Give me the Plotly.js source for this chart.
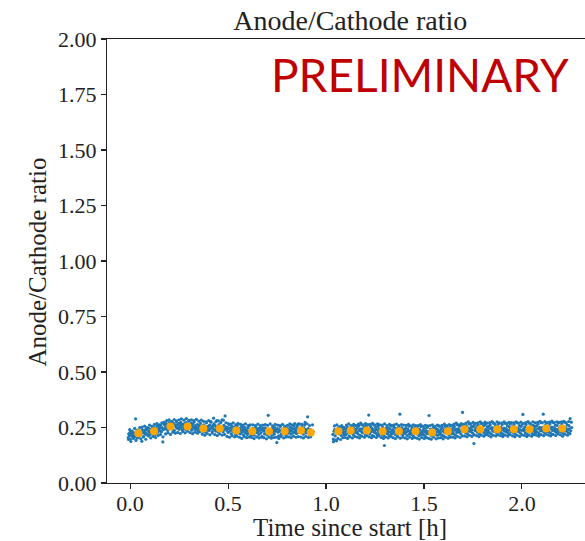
<!DOCTYPE html>
<html>
<head>
<meta charset="utf-8">
<script src="https://cdn.plot.ly/plotly-3.0.1.min.js"></script>
<style>html,body{margin:0;padding:0;background:#fff;}#chart{width:585px;height:541px;}</style>
</head>
<body>
<div id="chart"></div>
<script>
// ---- Data ----
// Run segment 1: time [h] and anode/cathode ratio
const t1 = [
-0.010,-0.007,-0.003,0.000,0.002,0.006,0.009,0.012,0.016,0.018,
0.022,0.025,0.028,0.031,0.034,0.038,0.041,0.043,0.047,0.050,
0.053,0.057,0.060,0.062,0.066,0.069,0.072,0.075,0.078,0.082,
0.085,0.087,0.091,0.094,0.097,0.101,0.103,0.107,0.110,0.113,
0.116,0.119,0.122,0.126,0.128,0.132,0.135,0.138,0.141,0.144,
0.148,0.151,0.153,0.157,0.160,0.163,0.167,0.169,0.173,0.176,
0.179,0.182,0.185,0.188,0.192,0.195,0.198,0.201,0.204,0.208,
0.210,0.214,0.217,0.220,0.223,0.226,0.229,0.233,0.236,0.239,
0.242,0.245,0.249,0.251,0.255,0.258,0.261,0.264,0.267,0.271,
0.274,0.277,0.280,0.283,0.286,0.290,0.292,0.296,0.299,0.302,
0.305,0.308,0.311,0.315,0.318,0.321,0.324,0.327,0.330,0.334,
0.337,0.340,0.343,0.346,0.349,0.353,0.355,0.359,0.362,0.365,
0.368,0.371,0.375,0.377,0.381,0.384,0.387,0.390,0.393,0.397,
0.399,0.403,0.406,0.409,0.412,0.415,0.419,0.421,0.425,0.428,
0.431,0.434,0.437,0.441,0.443,0.447,0.450,0.453,0.456,0.459,
0.463,0.465,0.469,0.472,0.475,0.478,0.481,0.485,0.488,0.491,
0.494,0.497,0.500,0.504,0.506,0.510,0.513,0.516,0.519,0.522,
0.526,0.529,0.531,0.535,0.538,0.541,0.545,0.547,0.551,0.554,
0.557,0.560,0.563,0.566,0.570,0.573,0.576,0.579,0.582,0.585,
0.589,0.591,0.595,0.598,0.601,0.604,0.607,0.611,0.613,0.617,
0.620,0.623,0.626,0.629,0.633,0.635,0.639,0.642,0.645,0.648,
0.651,0.655,0.657,0.661,0.664,0.667,0.670,0.673,0.677,0.679,
0.683,0.686,0.689,0.692,0.695,0.699,0.701,0.705,0.708,0.711,
0.714,0.717,0.721,0.723,0.727,0.730,0.733,0.736,0.739,0.743,
0.745,0.749,0.752,0.755,0.758,0.761,0.765,0.767,0.771,0.774,
0.777,0.780,0.783,0.787,0.789,0.793,0.796,0.799,0.802,0.805,
0.809,0.811,0.815,0.818,0.821,0.824,0.827,0.831,0.833,0.837,
0.840,0.843,0.846,0.849,0.853,0.855,0.859,0.862,0.865,0.868,
0.871,0.875,0.877,0.881,0.884,0.887,0.890,0.893,0.897,0.899,
0.903,0.906,0.909,0.912,0.915,0.919,0.921,0.925,0.928,0.934
];
const r1 = [
.205,.221,.213,.228,.198,.219,.232,.210,.224,.215,
.226,.208,.289,.219,.231,.203,.222,.236,.214,.225,
.218,.232,.188,.241,.226,.209,.229,.237,.220,.244,
.223,.238,.214,.247,.231,.226,.219,.242,.235,.228,
.241,.226,.250,.232,.219,.244,.237,.256,.229,.240,
.252,.236,.247,.261,.231,.249,.185,.240,.266,.245,
.259,.244,.268,.251,.237,.262,.255,.272,.246,.258,
.249,.264,.243,.271,.258,.236,.262,.254,.275,.247,
.263,.250,.269,.242,.258,.273,.251,.265,.239,.260,
.248,.268,.257,.241,.272,.253,.262,.246,.279,.259,
.261,.245,.270,.238,.256,.266,.249,.275,.243,.258,
.252,.239,.263,.247,.231,.258,.244,.269,.236,.254,
.241,.257,.233,.262,.248,.229,.253,.271,.238,.250,
.255,.237,.261,.243,.277,.249,.232,.258,.245,.266,
.240,.259,.234,.252,.281,.246,.229,.263,.250,.237,
.255,.238,.284,.247,.231,.260,.242,.302,.253,.244,
.236,.251,.228,.245,.262,.233,.247,.221,.256,.239,
.243,.229,.252,.236,.218,.247,.231,.258,.240,.225,
.232,.246,.221,.238,.254,.229,.243,.216,.237,.251,
.226,.241,.235,.219,.248,.230,.257,.224,.239,.213,
.238,.222,.246,.231,.215,.244,.236,.252,.227,.240,
.229,.245,.218,.237,.251,.225,.241,.210,.234,.247,
.236,.221,.248,.230,.243,.216,.239,.305,.227,.235,
.224,.240,.231,.214,.246,.229,.237,.220,.250,.233,
.238,.182,.245,.229,.212,.241,.234,.254,.219,.236,
.227,.243,.221,.238,.250,.230,.215,.246,.235,.224,
.241,.229,.253,.236,.220,.248,.233,.244,.226,.257,
.230,.245,.238,.222,.251,.235,.266,.228,.243,.239,
.244,.229,.252,.236,.220,.247,.233,.273,.241,.226,
.238,.298,.245,.230,.216,.241,.227,.236,.219,.233
];
// Segment 1, further readings at the edges of the cloud
const t1b = [
-0.008,-0.002,0.004,0.011,0.017,0.023,0.030,0.036,0.042,0.049,
0.055,0.061,0.067,0.074,0.080,0.086,0.093,0.099,0.105,0.111,
0.118,0.124,0.130,0.137,0.143,0.149,0.155,0.162,0.168,0.174,
0.181,0.187,0.193,0.199,0.206,0.212,0.218,0.225,0.231,0.237,
0.243,0.250,0.256,0.262,0.269,0.275,0.281,0.287,0.294,0.300,
0.306,0.313,0.319,0.325,0.331,0.338,0.344,0.350,0.357,0.363,
0.369,0.375,0.382,0.388,0.394,0.401,0.407,0.413,0.419,0.426,
0.432,0.438,0.445,0.451,0.457,0.463,0.470,0.476,0.482,0.489,
0.495,0.501,0.507,0.514,0.520,0.526,0.533,0.539,0.545,0.551,
0.558,0.564,0.570,0.577,0.583,0.589,0.595,0.602,0.608,0.614,
0.621,0.627,0.633,0.639,0.646,0.652,0.658,0.665,0.671,0.677,
0.683,0.690,0.696,0.702,0.709,0.715,0.721,0.727,0.734,0.740,
0.746,0.753,0.759,0.765,0.771,0.778,0.784,0.790,0.797,0.803,
0.809,0.815,0.822,0.828,0.834,0.841,0.847,0.853,0.859,0.866,
0.872,0.878,0.885,0.891,0.897,0.903,0.910,0.916,0.922,0.931
];
const r1b = [
.196,.240,.187,.234,.201,.246,.192,.238,.205,.250,
.199,.252,.208,.256,.197,.249,.212,.261,.203,.255,
.210,.264,.205,.268,.214,.262,.219,.271,.208,.274,
.221,.281,.226,.284,.219,.278,.229,.286,.224,.280,
.228,.285,.223,.289,.231,.283,.226,.290,.233,.282,
.227,.284,.222,.281,.229,.287,.224,.279,.231,.283,
.220,.278,.215,.275,.223,.281,.217,.274,.225,.292,
.218,.276,.214,.280,.221,.273,.216,.283,.219,.271,
.210,.268,.206,.265,.213,.271,.208,.263,.211,.269,
.206,.264,.201,.261,.209,.267,.204,.259,.207,.262,
.205,.262,.200,.259,.208,.265,.203,.258,.206,.261,
.204,.263,.199,.260,.207,.266,.202,.257,.205,.264,
.206,.261,.201,.258,.209,.264,.203,.256,.207,.260,
.208,.266,.204,.262,.211,.268,.206,.260,.209,.265,
.207,.264,.203,.261,.210,.267,.205,.259,.208,.262
];
// Run segment 2
const t2 = [
1.035,1.038,1.041,1.044,1.047,1.050,1.054,1.057,1.060,1.063,
1.066,1.069,1.072,1.075,1.078,1.081,1.084,1.087,1.090,1.093,
1.096,1.099,1.102,1.106,1.109,1.112,1.115,1.118,1.121,1.124,
1.127,1.130,1.133,1.136,1.139,1.142,1.145,1.148,1.151,1.154,
1.157,1.160,1.163,1.167,1.170,1.173,1.176,1.179,1.182,1.185,
1.188,1.191,1.194,1.197,1.200,1.203,1.206,1.209,1.212,1.215,
1.218,1.221,1.224,1.228,1.231,1.234,1.237,1.240,1.243,1.246,
1.249,1.252,1.255,1.258,1.261,1.264,1.267,1.270,1.273,1.276,
1.279,1.282,1.285,1.289,1.292,1.295,1.298,1.301,1.304,1.307,
1.310,1.313,1.316,1.319,1.322,1.325,1.328,1.331,1.334,1.337,
1.340,1.343,1.346,1.350,1.353,1.356,1.359,1.362,1.365,1.368,
1.371,1.374,1.377,1.380,1.383,1.386,1.389,1.392,1.395,1.398,
1.401,1.404,1.407,1.411,1.414,1.417,1.420,1.423,1.426,1.429,
1.432,1.435,1.438,1.441,1.444,1.447,1.450,1.453,1.456,1.459,
1.462,1.465,1.468,1.472,1.475,1.478,1.481,1.484,1.487,1.490,
1.493,1.496,1.499,1.502,1.505,1.508,1.511,1.514,1.517,1.520,
1.523,1.526,1.529,1.533,1.536,1.539,1.542,1.545,1.548,1.551,
1.554,1.557,1.560,1.563,1.566,1.569,1.572,1.575,1.578,1.581,
1.584,1.587,1.590,1.594,1.597,1.600,1.603,1.606,1.609,1.612,
1.615,1.618,1.621,1.624,1.627,1.630,1.633,1.636,1.639,1.642,
1.645,1.648,1.651,1.655,1.658,1.661,1.664,1.667,1.670,1.673,
1.676,1.679,1.682,1.685,1.688,1.691,1.694,1.697,1.700,1.703,
1.706,1.709,1.712,1.716,1.719,1.722,1.725,1.728,1.731,1.734,
1.737,1.740,1.743,1.746,1.749,1.752,1.755,1.758,1.761,1.764,
1.767,1.770,1.773,1.777,1.780,1.783,1.786,1.789,1.792,1.795,
1.798,1.801,1.804,1.807,1.810,1.813,1.816,1.819,1.822,1.825,
1.828,1.831,1.834,1.838,1.841,1.844,1.847,1.850,1.853,1.856,
1.859,1.862,1.865,1.868,1.871,1.874,1.877,1.880,1.883,1.886,
1.889,1.892,1.895,1.899,1.902,1.905,1.908,1.911,1.914,1.917,
1.920,1.923,1.926,1.929,1.932,1.935,1.938,1.941,1.944,1.947,
1.950,1.953,1.956,1.960,1.963,1.966,1.969,1.972,1.975,1.978,
1.981,1.984,1.987,1.990,1.993,1.996,1.999,2.002,2.005,2.008,
2.011,2.014,2.017,2.021,2.024,2.027,2.030,2.033,2.036,2.039,
2.042,2.045,2.048,2.051,2.054,2.057,2.060,2.063,2.066,2.069,
2.072,2.075,2.078,2.082,2.085,2.088,2.091,2.094,2.097,2.100,
2.103,2.106,2.109,2.112,2.115,2.118,2.121,2.124,2.127,2.130,
2.133,2.136,2.139,2.143,2.146,2.149,2.152,2.155,2.158,2.161,
2.164,2.167,2.170,2.173,2.176,2.179,2.182,2.185,2.188,2.191,
2.194,2.197,2.200,2.204,2.207,2.210,2.213,2.216,2.219,2.222,
2.225,2.228,2.231,2.234,2.237,2.240,2.243,2.246,2.249,2.254
];
const r2 = [
.219,.186,.233,.241,.212,.228,.190,.236,.245,.222,
.238,.221,.246,.229,.214,.251,.233,.226,.242,.217,
.229,.244,.218,.237,.252,.225,.240,.211,.235,.247,
.241,.226,.255,.232,.219,.246,.238,.260,.228,.243,
.230,.248,.222,.257,.237,.215,.244,.233,.262,.227,
.243,.229,.251,.236,.218,.258,.240,.225,.248,.232,
.306,.238,.221,.254,.231,.246,.213,.240,.262,.229,
.235,.250,.224,.241,.217,.256,.232,.245,.222,.238,
.228,.243,.219,.251,.236,.212,.169,.240,.226,.247,
.237,.222,.248,.231,.214,.244,.229,.256,.220,.235,
.241,.226,.252,.233,.218,.246,.230,.239,.211,.249,
.229,.244,.310,.236,.221,.250,.232,.217,.242,.227,
.238,.223,.247,.230,.214,.243,.235,.256,.220,.231,
.226,.241,.218,.249,.233,.210,.237,.228,.252,.224,
.235,.221,.245,.229,.213,.240,.226,.254,.218,.232,
.224,.239,.216,.247,.230,.209,.236,.222,.250,.228,
.232,.304,.220,.243,.227,.212,.238,.225,.251,.218,
.237,.223,.246,.229,.215,.242,.231,.257,.219,.235,
.228,.243,.217,.250,.234,.211,.239,.226,.255,.230,
.240,.225,.249,.232,.216,.245,.229,.258,.221,.237,
.231,.247,.222,.255,.238,.215,.243,.228,.262,.234,
.244,.229,.256,.236,.221,.262,.240,.318,.232,.250,
.236,.251,.227,.259,.244,.221,.248,.233,.266,.240,
.247,.231,.257,.239,.224,.253,.178,.263,.236,.245,
.238,.254,.229,.261,.243,.222,.250,.235,.268,.241,
.246,.230,.257,.238,.223,.264,.242,.232,.253,.227,
.240,.255,.228,.262,.245,.221,.249,.236,.270,.233,
.248,.232,.259,.240,.225,.256,.238,.266,.229,.244,
.235,.251,.226,.263,.241,.219,.247,.233,.269,.238,
.245,.229,.258,.237,.222,.254,.240,.267,.231,.249,
.239,.256,.227,.262,.243,.220,.250,.234,.271,.236,
.247,.231,.259,.240,.224,.255,.237,.265,.309,.243,
.236,.252,.226,.264,.242,.219,.248,.232,.270,.239,
.246,.230,.257,.238,.223,.261,.243,.234,.255,.228,
.241,.256,.229,.265,.245,.222,.251,.236,.272,.238,
.249,.233,.310,.242,.227,.258,.239,.268,.231,.246,
.238,.255,.229,.266,.246,.223,.252,.237,.273,.241,
.250,.234,.261,.243,.228,.259,.240,.270,.232,.247,
.239,.256,.230,.267,.244,.224,.253,.236,.274,.242,
.248,.233,.262,.240,.226,.258,.244,.290,.235,.250
];
// Segment 2, further readings at the edges of the cloud
const t2b = [
1.037,1.043,1.049,1.055,1.061,1.067,1.074,1.080,1.086,1.092,
1.098,1.104,1.110,1.116,1.122,1.128,1.135,1.141,1.147,1.153,
1.159,1.165,1.171,1.177,1.183,1.189,1.196,1.202,1.208,1.214,
1.220,1.226,1.232,1.238,1.244,1.250,1.257,1.263,1.269,1.275,
1.281,1.287,1.293,1.299,1.305,1.311,1.318,1.324,1.330,1.336,
1.342,1.348,1.354,1.360,1.366,1.372,1.379,1.385,1.391,1.397,
1.403,1.409,1.415,1.421,1.427,1.433,1.440,1.446,1.452,1.458,
1.464,1.470,1.476,1.482,1.488,1.494,1.501,1.507,1.513,1.519,
1.525,1.531,1.537,1.543,1.549,1.555,1.562,1.568,1.574,1.580,
1.586,1.592,1.598,1.604,1.610,1.616,1.623,1.629,1.635,1.641,
1.647,1.653,1.659,1.665,1.671,1.677,1.684,1.690,1.696,1.702,
1.708,1.714,1.720,1.726,1.732,1.738,1.745,1.751,1.757,1.763,
1.769,1.775,1.781,1.787,1.793,1.799,1.806,1.812,1.818,1.824,
1.830,1.836,1.842,1.848,1.854,1.860,1.867,1.873,1.879,1.885,
1.891,1.897,1.903,1.909,1.915,1.921,1.928,1.934,1.940,1.946,
1.952,1.958,1.964,1.970,1.976,1.982,1.989,1.995,2.001,2.007,
2.013,2.019,2.025,2.031,2.037,2.043,2.050,2.056,2.062,2.068,
2.074,2.080,2.086,2.092,2.098,2.104,2.111,2.117,2.123,2.129,
2.135,2.141,2.147,2.153,2.159,2.165,2.172,2.178,2.184,2.190,
2.196,2.202,2.208,2.214,2.220,2.226,2.233,2.239,2.245,2.252
];
const r2b = [
.198,.257,.193,.262,.201,.254,.196,.259,.204,.251,
.205,.261,.201,.266,.208,.258,.203,.264,.210,.259,
.207,.265,.203,.270,.211,.262,.206,.268,.213,.263,
.208,.264,.204,.269,.210,.261,.205,.267,.212,.262,
.205,.261,.201,.266,.207,.259,.203,.264,.209,.260,
.204,.262,.200,.265,.208,.258,.202,.263,.206,.261,
.203,.260,.199,.264,.207,.257,.201,.262,.205,.259,
.202,.258,.198,.263,.205,.256,.200,.260,.204,.257,
.201,.259,.197,.262,.206,.255,.199,.261,.203,.256,
.204,.260,.199,.265,.207,.258,.202,.263,.206,.259,
.207,.265,.203,.270,.210,.262,.205,.268,.212,.264,
.212,.270,.208,.275,.215,.268,.210,.273,.217,.269,
.213,.271,.209,.276,.216,.269,.211,.274,.218,.270,
.214,.272,.208,.277,.215,.268,.212,.275,.217,.271,
.213,.270,.209,.276,.216,.269,.211,.273,.218,.272,
.212,.271,.208,.275,.215,.270,.210,.274,.217,.268,
.214,.272,.209,.277,.216,.269,.211,.276,.218,.271,
.215,.273,.211,.278,.218,.271,.213,.277,.220,.272,
.216,.274,.212,.279,.219,.272,.214,.276,.221,.273,
.217,.275,.211,.278,.220,.271,.215,.277,.222,.274
];
// Binned means (orange)
const binT1 = [0.042,0.122,0.206,0.293,0.374,0.458,0.542,0.624,0.709,0.789,0.872,0.922];
const binR1 = [0.224,0.233,0.255,0.255,0.245,0.245,0.236,0.233,0.233,0.233,0.237,0.228];
const binT2 = [1.063,1.126,1.208,1.289,1.372,1.457,1.542,1.622,1.707,1.787,1.874,1.959,2.039,2.124,2.206];
const binR2 = [0.233,0.236,0.237,0.233,0.233,0.233,0.227,0.233,0.242,0.242,0.242,0.242,0.242,0.246,0.245];
// Ticks
const xTicks = [0.0, 0.5, 1.0, 1.5, 2.0];
const xTickText = ["0.0", "0.5", "1.0", "1.5", "2.0"];
const yTicks = [0, 0.25, 0.5, 0.75, 1.0, 1.25, 1.5, 1.75, 2.0];
const yTickText = ["0.00", "0.25", "0.50", "0.75", "1.00", "1.25", "1.50", "1.75", "2.00"];
const titleText = "Anode/Cathode ratio";
const xLabel = "Time since start [h]";
const yLabel = "Anode/Cathode ratio";
const stampText = "PRELIMINARY";

// ---- Plot ----
const serif = "Liberation Serif, Times New Roman, serif";
const traces = [
  {x: t1.concat(t1b, t2, t2b), y: r1.concat(r1b, r2, r2b), type: "scatter", mode: "markers",
   marker: {color: "#1f77b4", size: 3.2, line: {width: 0}}, hoverinfo: "x+y"},
  {x: binT1.concat(binT2), y: binR1.concat(binR2), type: "scatter", mode: "markers",
   marker: {color: "#ffa500", size: 8, line: {width: 0}}, hoverinfo: "x+y"}
];
const layout = {
  width: 585, height: 541,
  margin: {l: 107, r: 0, t: 39, b: 58, pad: 0},
  paper_bgcolor: "#fff", plot_bgcolor: "#fff",
  showlegend: false,
  font: {family: serif, color: "#222", size: 22},
  title: {text: titleText, font: {family: serif, size: 28, color: "#222"},
          xref: "paper", x: 0.509, xanchor: "center",
          yref: "container", y: 0.962, yanchor: "middle"},
  xaxis: {range: [-0.118, 2.322], tickvals: xTicks, ticktext: xTickText,
          showgrid: false, zeroline: false, showline: true, linecolor: "#222", linewidth: 1.2,
          mirror: true, ticks: "outside", ticklen: 5, tickwidth: 1.1, tickcolor: "#222",
          ticklabelstandoff: -5,
          tickfont: {family: serif, size: 22, color: "#222"}, fixedrange: true},
  yaxis: {range: [0, 2], tickvals: yTicks, ticktext: yTickText,
          showgrid: false, zeroline: false, showline: true, linecolor: "#222", linewidth: 1.2,
          mirror: false, ticks: "outside", ticklen: 5, tickwidth: 1.1, tickcolor: "#222",
          tickfont: {family: serif, size: 22, color: "#222"}, fixedrange: true},
  annotations: [
    {text: xLabel, xref: "paper", yref: "paper", x: 0.509, y: -0.100, xanchor: "center", yanchor: "middle",
     showarrow: false, font: {family: serif, size: 25, color: "#222"}},
    {text: yLabel, xref: "paper", yref: "paper", x: -0.146, y: 0.497, xanchor: "center", yanchor: "middle",
     textangle: -90, showarrow: false, font: {family: serif, size: 25, color: "#222"}},
    {text: stampText, xref: "paper", yref: "paper", x: 0.655, y: 0.919, xanchor: "center", yanchor: "middle",
     showarrow: false, font: {family: "Lato, Noto Sans, sans-serif", size: 46, weight: 400, color: "#c00000"}}
  ]
};
Plotly.newPlot("chart", traces, layout, {displayModeBar: false, staticPlot: true});
</script>
</body>
</html>
